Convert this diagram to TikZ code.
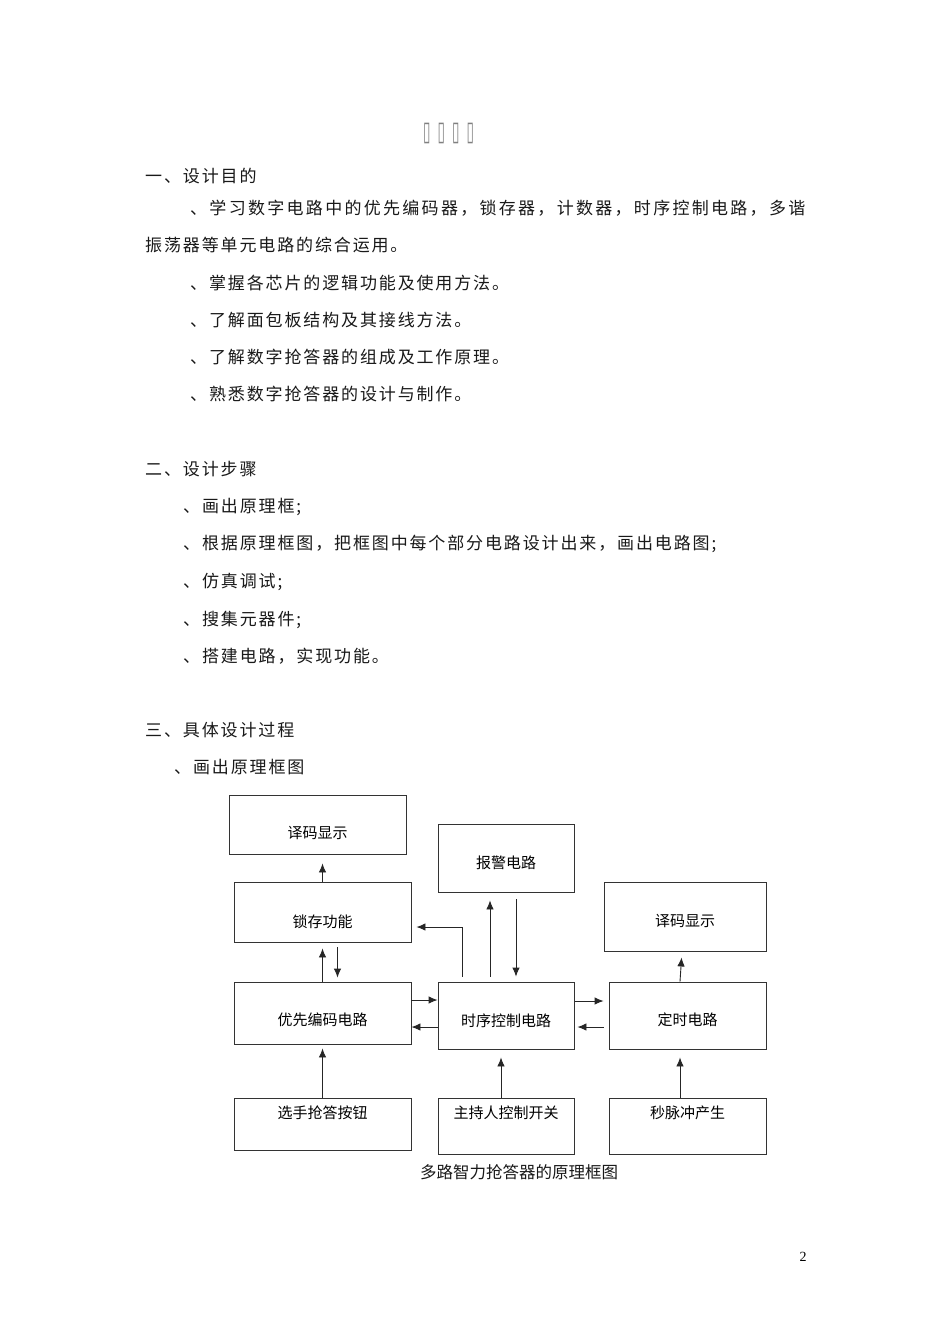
\documentclass[tikz,border=0pt]{standalone}
\usepackage{fontspec}
\usepackage{tikz}
\usetikzlibrary{arrows.meta,calc}
\setmainfont{Liberation Serif}
\newfontfamily\cjk{Noto Sans CJK SC}
\newfontfamily\cjkwide[LetterSpace=11]{Noto Sans CJK SC}
\newfontfamily\cjkjust[LetterSpace=13.5]{Noto Sans CJK SC}
\newfontfamily\tofu[FakeStretch=0.5,LetterSpace=26]{DejaVu Sans}
\newcommand{\para}[1]{{\cjkwide\fontsize{17}{18}\selectfont #1}}
\newcommand{\parajust}[1]{{\cjkjust\fontsize{17}{18}\selectfont #1}}

\begin{document}
\begin{tikzpicture}[x=1pt,y=-1pt]
    \tikzset{line/.style={inner sep=0pt, anchor=base west, text=black!90},
             blok/.style={draw=black!80, line width=0.9pt, inner sep=0pt, font=\cjk\fontsize{15}{18}\selectfont},
             sink/.style={text height=#1, text depth=0pt},
             lift/.style={text height=0pt, text depth=#1},
             arr/.style={draw=black!85, line width=0.9pt, -{Latex[length=9pt,width=7.5pt]}}}
    \fill[white] (0,0) rectangle (950,1344);
    \useasboundingbox (0,0) rectangle (950,1344);
    % title and text
    \node[inner sep=0pt, anchor=west, text=black!50, font=\tofu\fontsize{27}{28}\selectfont] (title) at (423,133) {▯▯▯▯};
    \node[line] (aim)  at (145,182) {\para{一、设计目的}};
    \node[line] (aim1) at (190,214) {\parajust{、学习数字电路中的优先编码器，锁存器，计数器，时序控制电路，多谐}};
    \node[line] (aim1b) at (145,251) {\para{振荡器等单元电路的综合运用。}};
    \node[line] (aim2) at (190,289) {\para{、掌握各芯片的逻辑功能及使用方法。}};
    \node[line] (aim3) at (190,326) {\para{、了解面包板结构及其接线方法。}};
    \node[line] (aim4) at (190,363) {\para{、了解数字抢答器的组成及工作原理。}};
    \node[line] (aim5) at (190,400) {\para{、熟悉数字抢答器的设计与制作。}};
    \node[line] (step)  at (145,475) {\para{二、设计步骤}};
    \node[line] (step1) at (183,512) {\para{、画出原理框;}};
    \node[line] (step2) at (183,549) {\para{、根据原理框图，把框图中每个部分电路设计出来，画出电路图;}};
    \node[line] (step3) at (183,587) {\para{、仿真调试;}};
    \node[line] (step4) at (183,625) {\para{、搜集元器件;}};
    \node[line] (step5) at (183,662) {\para{、搭建电路，实现功能。}};
    \node[line] (proc)  at (145,736) {\para{三、具体设计过程}};
    \node[line] (proc1) at (174,773) {\para{、画出原理框图}};
    % block diagram
    \node[blok, minimum width=177pt, minimum height=59pt, sink=28pt] (dec1) at (317.5,824.5) {译码显示};
    \node[blok, minimum width=136pt, minimum height=68pt, sink=21pt] (alarm) at (506,858) {报警电路};
    \node[blok, minimum width=177pt, minimum height=60pt, sink=31pt] (latch) at (322.5,912) {锁存功能};
    \node[blok, minimum width=162pt, minimum height=69pt, sink=20pt] (dec2) at (685,916.5) {译码显示};
    \node[blok, minimum width=177pt, minimum height=62pt, sink=25pt] (enc) at (322.5,1013) {优先编码电路};
    \node[blok, minimum width=136pt, minimum height=67pt, sink=22pt] (ctrl) at (506,1015.5) {时序控制电路};
    \node[blok, minimum width=157pt, minimum height=67pt, sink=20pt] (timer) at (687.5,1015.5) {定时电路};
    \node[blok, minimum width=177pt, minimum height=52pt, lift=10.6pt] (keys) at (322.5,1124) {选手抢答按钮};
    \node[blok, minimum width=136pt, minimum height=56pt, lift=14.6pt] (host) at (506,1126) {主持人控制开关};
    \node[blok, minimum width=157pt, minimum height=56pt, lift=14.6pt] (clk) at (687.5,1126) {秒脉冲产生};
    \node[inner sep=0pt, text=black!90, font=\cjk\fontsize{16.5}{18}\selectfont] (cap) at (519,1172) {多路智力抢答器的原理框图};
    \draw[arr, shorten >=9pt] (latch.north) -- (latch.north |- dec1.south);
    \draw[arr, shorten >=6pt] (enc.north) -- (enc.north |- latch.south);
    \draw[arr, shorten <=5pt, shorten >=4pt] ([xshift=15pt]latch.south) -- ([xshift=15pt]latch.south |- enc.north);
    \draw[arr, shorten <=5pt, shorten >=5pt] ([xshift=-44pt]ctrl.north) |- ([yshift=-15pt]latch.east);
    \draw[arr, shorten <=5pt, shorten >=8pt] ([xshift=-16pt]ctrl.north) -- ([xshift=-16pt]ctrl.north |- alarm.south);
    \draw[arr, shorten <=7pt, shorten >=5pt] ([xshift=10pt]alarm.south) -- ([xshift=10pt]alarm.south |- ctrl.north);
    \draw[arr] ([yshift=13pt]enc.east) -- ([yshift=13pt]enc.east -| ctrl.west);
    \draw[arr] ([yshift=-14pt]enc.east -| ctrl.west) -- ([yshift=-14pt]enc.east);
    \draw[arr, shorten <=1pt, shorten >=5pt] ([yshift=14.5pt]ctrl.east) -- ([yshift=14.5pt]ctrl.east -| timer.west);
    \draw[arr, shorten <=5pt, shorten >=3pt] ([yshift=-11.5pt]timer.west) -- ([yshift=-11.5pt]timer.west -| ctrl.east);
    \draw[arr, shorten >=6pt] ([xshift=-7.5pt]timer.north) -- ([xshift=-3pt]dec2.south);
    \draw[arr, shorten >=4pt] (keys.north) -- (keys.north |- enc.south);
    \draw[arr, shorten >=8pt] ([xshift=-5pt]host.north) -- ([xshift=-5pt]host.north |- ctrl.south);
    \draw[arr, shorten >=8pt] ([xshift=-7.5pt]clk.north) -- ([xshift=-7.5pt]clk.north |- timer.south);
    % page number
    \node[inner sep=0pt, font=\fontsize{14}{16}\selectfont] (page) at (803,1257) {2};
\end{tikzpicture}
\end{document}
